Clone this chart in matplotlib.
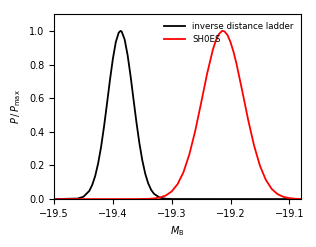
import matplotlib
matplotlib.use('Agg')
import matplotlib.pyplot as plt

# inverse distance ladder posterior (normalised to peak)
mb_idl = [-19.50, -19.46, -19.45, -19.44, -19.435, -19.43, -19.425, -19.42,
          -19.415, -19.41, -19.405, -19.40, -19.395, -19.39, -19.387, -19.385,
          -19.38, -19.375, -19.37, -19.365, -19.36, -19.355, -19.35, -19.345,
          -19.34, -19.335, -19.33, -19.32, -19.31, -19.30, -19.08]
p_idl = [0.0, 0.003, 0.014, 0.049, 0.085, 0.138, 0.213, 0.311,
         0.432, 0.567, 0.707, 0.834, 0.934, 0.990, 1.0, 0.996,
         0.949, 0.857, 0.734, 0.595, 0.458, 0.334, 0.231, 0.151,
         0.094, 0.055, 0.031, 0.008, 0.002, 0.0003, 0.0]

# SH0ES posterior
mb_sh0es = [-19.50, -19.40, -19.36, -19.34, -19.33, -19.32, -19.31, -19.30,
            -19.29, -19.28, -19.27, -19.26, -19.25, -19.24, -19.23, -19.225,
            -19.22, -19.215, -19.213, -19.21, -19.205, -19.20, -19.195, -19.19,
            -19.18, -19.17, -19.16, -19.15, -19.14, -19.13, -19.12, -19.11,
            -19.10, -19.09, -19.08]
p_sh0es = [0.0, 0.0, 0.0002, 0.0014, 0.0037, 0.0094, 0.0215, 0.0455,
           0.089, 0.160, 0.266, 0.406, 0.572, 0.743, 0.889, 0.943,
           0.980, 0.998, 1.0, 0.996, 0.974, 0.933, 0.876, 0.806,
           0.641, 0.470, 0.318, 0.198, 0.114, 0.060, 0.029, 0.013,
           0.0055, 0.0021, 0.0007]

plt.rcParams['font.size'] = 7

fig = plt.figure(figsize=(3.16, 2.47), dpi=100)
ax = fig.add_axes([0.171, 0.194, 0.782, 0.749])

ax.plot(mb_idl, p_idl, color='black', lw=1.3, label='inverse distance ladder')
ax.plot(mb_sh0es, p_sh0es, color='red', lw=1.3, label='SH0ES')

ax.set_xlim(-19.5, -19.08)
ax.set_ylim(0, 1.1)
ax.set_xticks([-19.5, -19.4, -19.3, -19.2, -19.1])
ax.set_yticks([0.0, 0.2, 0.4, 0.6, 0.8, 1.0])
ax.set_xlabel(r'$M_\mathrm{B}$')
ax.set_ylabel(r'$P\,/\,P_\mathrm{max}$')
ax.legend(loc='upper right', frameon=False, fontsize=6.2, handlelength=2.5)

fig.savefig('out.png', dpi=100)
